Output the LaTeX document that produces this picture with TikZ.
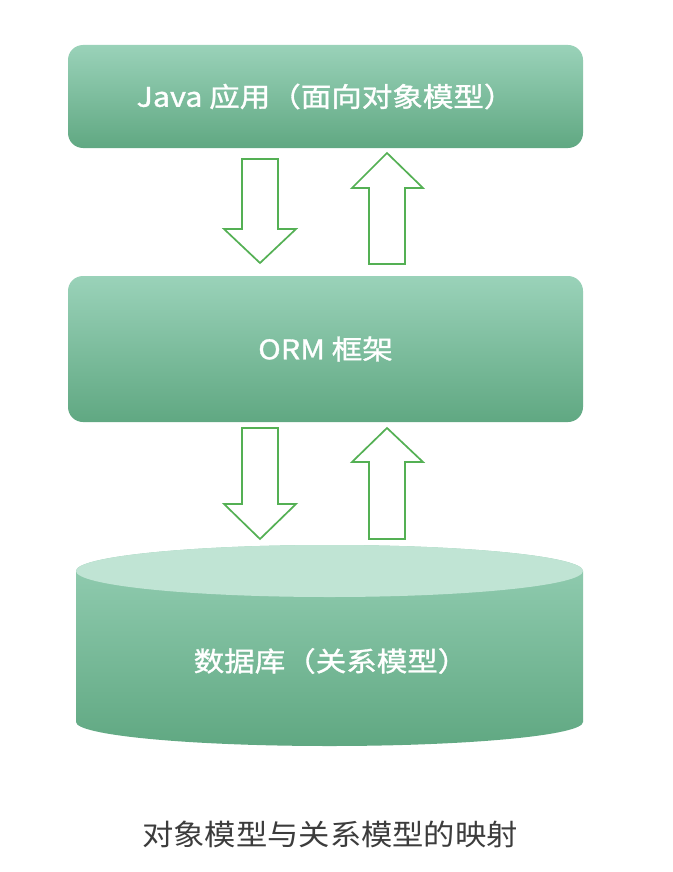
\documentclass[tikz,border=0pt]{standalone}
\usepackage{fontspec}
\newfontfamily\cjkbox[FakeStretch=1.13,FakeBold=1.2]{Noto Sans CJK SC}
\newfontfamily\cjkcap[FakeStretch=1.08]{Noto Sans CJK SC}
\definecolor{gtop}{RGB}{154,210,185}
\definecolor{gbot}{RGB}{96,168,130}
\definecolor{ctop}{RGB}{192,228,212}
\definecolor{cbody}{RGB}{149,207,180}
\definecolor{arrowgreen}{RGB}{84,176,84}
\definecolor{captext}{RGB}{60,60,60}
\tikzset{
  layerbox/.style={rectangle, rounded corners=15pt, top color=gtop, bottom color=gbot,
    draw=none, inner sep=0pt, minimum width=515pt, text=white,
    font=\cjkbox\fontsize{27pt}{32pt}\selectfont},
  blockarrow/.style={draw=arrowgreen, line width=1.7pt, fill=white, line join=miter},
  labeltext/.style={text=white, font=\cjkbox\fontsize{27pt}{32pt}\selectfont, inner sep=0pt},
  captionstyle/.style={text=captext, font=\cjkcap\fontsize{29pt}{34pt}\selectfont, inner sep=0pt}
}
\begin{document}
\begin{tikzpicture}[x=1pt,y=-1pt]
\useasboundingbox (0,0) rectangle (672,872);
\fill[white] (0,0) rectangle (672,872);

% top box
\node[layerbox, minimum height=103pt] (java) at (325.5,96.5) {Java 应用（面向对象模型）};
% ORM box
\node[layerbox, minimum height=146pt] (orm) at (325.5,349) {ORM 框架};

% arrows between java and orm
\draw[blockarrow] (242,159) -- (278,159) -- (278,229) -- (296,229) -- (260,263) -- (224,229) -- (242,229) -- cycle;
\draw[blockarrow] (387,153) -- (423,188) -- (405,188) -- (405,264) -- (369,264) -- (369,188) -- (352,188) -- cycle;

% arrows between orm and db
\draw[blockarrow] (242,428) -- (278,428) -- (278,504) -- (296,504) -- (260,539) -- (224,504) -- (242,504) -- cycle;
\draw[blockarrow] (387,428) -- (423,462) -- (405,462) -- (405,539) -- (369,539) -- (369,462) -- (352,462) -- cycle;

% cylinder
\path[top color=cbody, bottom color=gbot]
  (76,571) -- (76,722) arc[start angle=180, end angle=0, x radius=253.5, y radius=24]
  -- (583,571) arc[start angle=0, end angle=-180, x radius=253.5, y radius=26] -- cycle;
\fill[ctop] (329.5,571) ellipse[x radius=253.5, y radius=26];
\node[labeltext] (db) at (331,661) {数据库（关系模型）};

% caption
\node[captionstyle] (cap) at (330,834) {对象模型与关系模型的映射};
\end{tikzpicture}
\end{document}
